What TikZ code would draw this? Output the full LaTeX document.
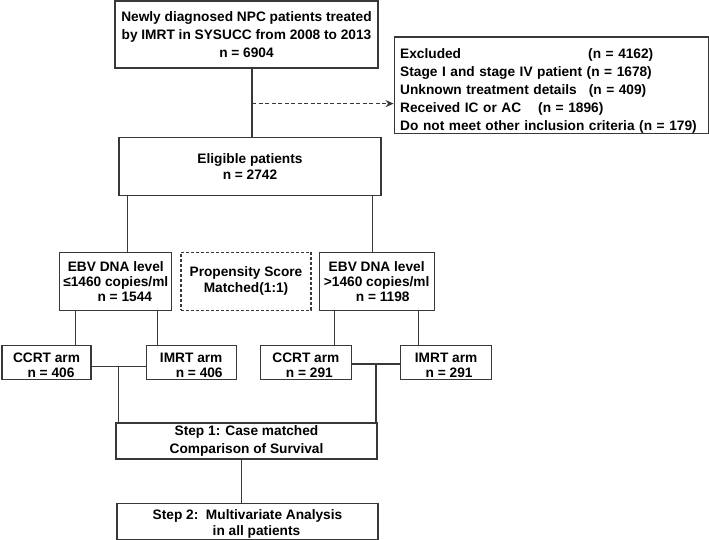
\documentclass[tikz,border=0pt]{standalone}
\usepackage{fontspec}
\setmainfont{Liberation Sans}
\definecolor{linegray}{gray}{0.22}
\usetikzlibrary{calc,arrows.meta,positioning}
\tikzset{
	>={Stealth[length=8pt,width=7pt]},
	flowbox/.style={
		rectangle,
		draw=linegray, line width=1.2pt,
		fill=white,
		inner sep=1pt,
		align=center,
		font=\bfseries\fontsize{13.7}{16}\selectfont},
	bigbox/.style={flowbox, minimum width=262pt},
	ebvbox/.style={flowbox, minimum height=57.5pt,
		font=\bfseries\fontsize{13.7}{15}\selectfont},
	armbox/.style={flowbox, minimum width=90pt, minimum height=34pt,
		font=\bfseries\fontsize{13.7}{14.5}\selectfont},
	exclbox/.style={flowbox, align=left, text width=302pt,
		inner xsep=6pt, inner ysep=0.5pt,
		font=\bfseries\fontsize{13.7}{18}\selectfont},
	psmbox/.style={flowbox, dash pattern=on 3pt off 2pt},
	line/.style={draw=linegray, line width=1.2pt},
	dashline/.style={line, ->, dash pattern=on 4pt off 2.5pt},
}
\newcommand*\upstrut{\rule{0pt}{15pt}}

\begin{document}
\begin{tikzpicture}[x=1pt, y=1pt, node distance=10pt]
\useasboundingbox (0,0) rectangle (709,-540);

\node[bigbox, minimum width=263pt, minimum height=67pt,
	font=\bfseries\fontsize{13.7}{18}\selectfont] (newly) at (246.5,-34.5)
	{Newly diagnosed NPC patients treated\\by IMRT in SYSUCC from 2008 to 2013\\n = 6904};
\node[exclbox, anchor=north west] (excl) at ([xshift=15pt,yshift=-36pt]newly.north east)
	{\rule{0pt}{21pt}\makebox[188pt][l]{Excluded}(n = 4162)\\
	Stage I and stage IV patient (n = 1678)\\
	Unknown treatment details\hspace{12pt}(n = 409)\\
	Received IC or AC\hspace{17pt}(n = 1896)\\
	\makebox[302pt][s]{Do not meet other inclusion criteria (n = 179)}};
\node[bigbox, minimum height=58pt, below=68pt of newly, xshift=3.5pt] (elig)
	{Eligible patients\\n = 2742};

\node[psmbox, minimum width=130pt, minimum height=58pt, below=56pt of elig, xshift=-4pt] (psm)
	{Propensity Score\\Matched(1:1)};
\node[ebvbox, minimum width=112pt, left=8pt of psm] (ebvL)
	{EBV DNA level\\≤1460 copies/ml\\\hspace*{18pt}n = 1544};
\node[ebvbox, minimum width=115pt, right=7pt of psm] (ebvR)
	{EBV DNA level\\>1460 copies/ml\\\hspace*{12pt}n = 1198};

\node[armbox, minimum width=89pt] (ccrtL) at (46.5,-362.5) {\upstrut CCRT arm\\\hspace*{9pt}n = 406};
\node[armbox, right=54pt of ccrtL] (imrtL) {\upstrut IMRT arm\\\hspace*{16pt}n = 406};
\node[armbox, minimum width=91pt, right=23pt of imrtL] (ccrtR) {\upstrut CCRT arm\\\hspace*{7pt}n = 291};
\node[armbox, minimum width=91pt, right=48pt of ccrtR] (imrtR) {\upstrut IMRT arm\\\hspace*{6pt}n = 291};

\node[bigbox, minimum width=261pt, minimum height=36pt,
	font=\bfseries\fontsize{13.7}{17.5}\selectfont] (step1) at (246.5,-441)
	{Step 1: Case matched\\Comparison of Survival};
\node[bigbox, minimum width=261pt, minimum height=36pt, below=43pt of step1, xshift=1pt] (step2)
	{\upstrut Step 2:\ \ Multivariate Analysis\\\hspace*{18pt}in all patients};

\coordinate (split) at ([xshift=5.5pt,yshift=-35pt]newly.south);
\draw[line] ([xshift=5.5pt]newly.south) -- ([xshift=5.5pt]newly.south |- elig.north);
\draw[dashline] (split) -- (split -| excl.west);

\draw[line] ([xshift=9pt]elig.south west) -- ([xshift=9pt]elig.south west |- ebvL.north);
\draw[line] ([xshift=-9pt]elig.south east) -- ([xshift=-9pt]elig.south east |- ebvR.north);

\draw[line] ([xshift=16pt]ebvL.south west) -- ([xshift=16pt]ebvL.south west |- ccrtL.north);
\draw[line] ([xshift=-15pt]ebvL.south east) -- ([xshift=-15pt]ebvL.south east |- imrtL.north);
\draw[line] ([xshift=16pt]ebvR.south west) -- ([xshift=16pt]ebvR.south west |- ccrtR.north);
\draw[line] ([xshift=-16pt]ebvR.south east) -- ([xshift=-16pt]ebvR.south east |- imrtR.north);

\draw[line] ([yshift=-4pt]ccrtL.east) -- ([yshift=-4pt]imrtL.west);
\coordinate (joinL) at ($([yshift=-4pt]ccrtL.east)!.5!([yshift=-4pt]imrtL.west)$);
\draw[line] (joinL) -- (joinL |- step1.north);
\draw[line] ([yshift=-1.5pt]ccrtR.east) -- ([yshift=-1.5pt]imrtR.west);
\coordinate (joinR) at ($([yshift=-1.5pt]ccrtR.east)!.5!([yshift=-1.5pt]imrtR.west)$);
\draw[line] (joinR) -- (joinR |- step1.north);

\draw[line] ([xshift=-5pt]step1.south) -- ([xshift=-5pt]step1.south |- step2.north);
\end{tikzpicture}
\end{document}
